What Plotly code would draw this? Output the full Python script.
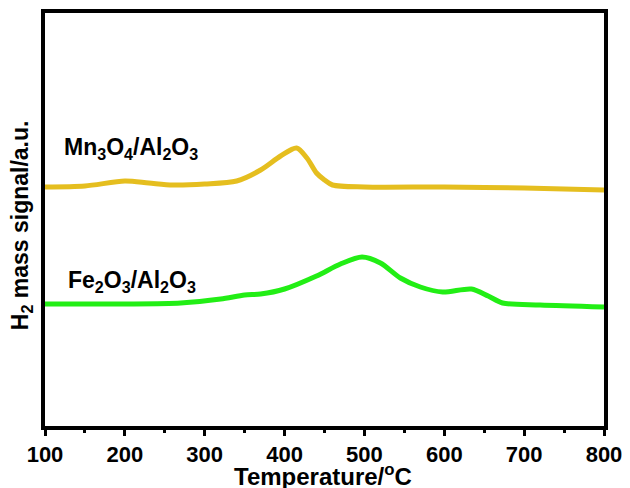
import plotly.graph_objects as go

# Data (arbitrary signal units)
mn_temp = [100, 150, 200, 230, 260, 300, 340, 370, 395, 415, 428, 440, 450, 460, 500, 600, 700, 800]
mn_sig = [239, 240, 245, 243, 241, 242, 245, 256, 270, 278, 268, 253, 246, 241, 239, 239, 238, 236]

fe_temp = [100, 200, 270, 320, 350, 370, 400, 440, 470, 497, 520, 545, 570, 598, 634, 655, 673, 720, 800]
fe_sig = [122, 122, 123, 127, 131, 132, 137, 150, 162, 169, 163, 148, 139, 134, 137, 130, 123, 121, 119]

x_ticks = [100, 200, 300, 400, 500, 600, 700, 800]

FONT = "Liberation Sans, Arial, sans-serif"

fig = go.Figure()
fig.add_trace(go.Scatter(x=mn_temp, y=mn_sig, mode="lines",
                         line=dict(color="#E5BE1F", width=5, shape="spline", smoothing=0.8),
                         showlegend=False))
fig.add_trace(go.Scatter(x=fe_temp, y=fe_sig, mode="lines",
                         line=dict(color="#22EE15", width=5, shape="spline", smoothing=0.8),
                         showlegend=False))

fig.add_annotation(x=208, y=278, xref="x", yref="y", xanchor="center", yanchor="middle",
                   text="<b>Mn<sub>3</sub>O<sub>4</sub>/Al<sub>2</sub>O<sub>3</sub></b>",
                   showarrow=False, font=dict(family=FONT, size=23, color="black"))
fig.add_annotation(x=209, y=145, xref="x", yref="y", xanchor="center", yanchor="middle",
                   text="<b>Fe<sub>2</sub>O<sub>3</sub>/Al<sub>2</sub>O<sub>3</sub></b>",
                   showarrow=False, font=dict(family=FONT, size=23, color="black"))

# axis titles
fig.add_annotation(x=0.497, y=-0.119, xref="paper", yref="paper", xanchor="center", yanchor="middle",
                   text="<b>Temperature/<sup>o</sup>C</b>", showarrow=False,
                   font=dict(family=FONT, size=24, color="black"))
fig.add_annotation(x=-0.042, y=0.485, xref="paper", yref="paper", textangle=-90,
                   xanchor="center", yanchor="middle",
                   text="<b>H<sub>2</sub> mass signal/a.u.</b>", showarrow=False,
                   font=dict(family=FONT, size=23, color="black"))

fig.update_layout(
    width=630, height=488,
    margin=dict(l=45, r=26, t=13, b=62),
    plot_bgcolor="white", paper_bgcolor="white",
    font=dict(family=FONT, size=22, color="black"),
    xaxis=dict(range=[100, 800], tickvals=x_ticks, ticktext=[f"<b>{v}</b>" for v in x_ticks],
               automargin=False,
               showgrid=False, zeroline=False, showline=True, linecolor="black", linewidth=4,
               mirror=True, ticks="outside", ticklen=6, tickwidth=3, tickcolor="black",
               minor=dict(tickvals=[150, 250, 350, 450, 550, 650, 750], ticks="outside",
                          ticklen=3, tickwidth=3, tickcolor="black"),
               tickfont=dict(family=FONT, size=22)),
    yaxis=dict(range=[0, 413], showticklabels=False, showgrid=False, zeroline=False,
               automargin=False,
               showline=True, linecolor="black", linewidth=4, mirror=True, ticks=""),
)

fig.write_html("out.html", config={"displayModeBar": False},
               post_script="document.body.style.margin='0';document.body.style.overflow='hidden';")
